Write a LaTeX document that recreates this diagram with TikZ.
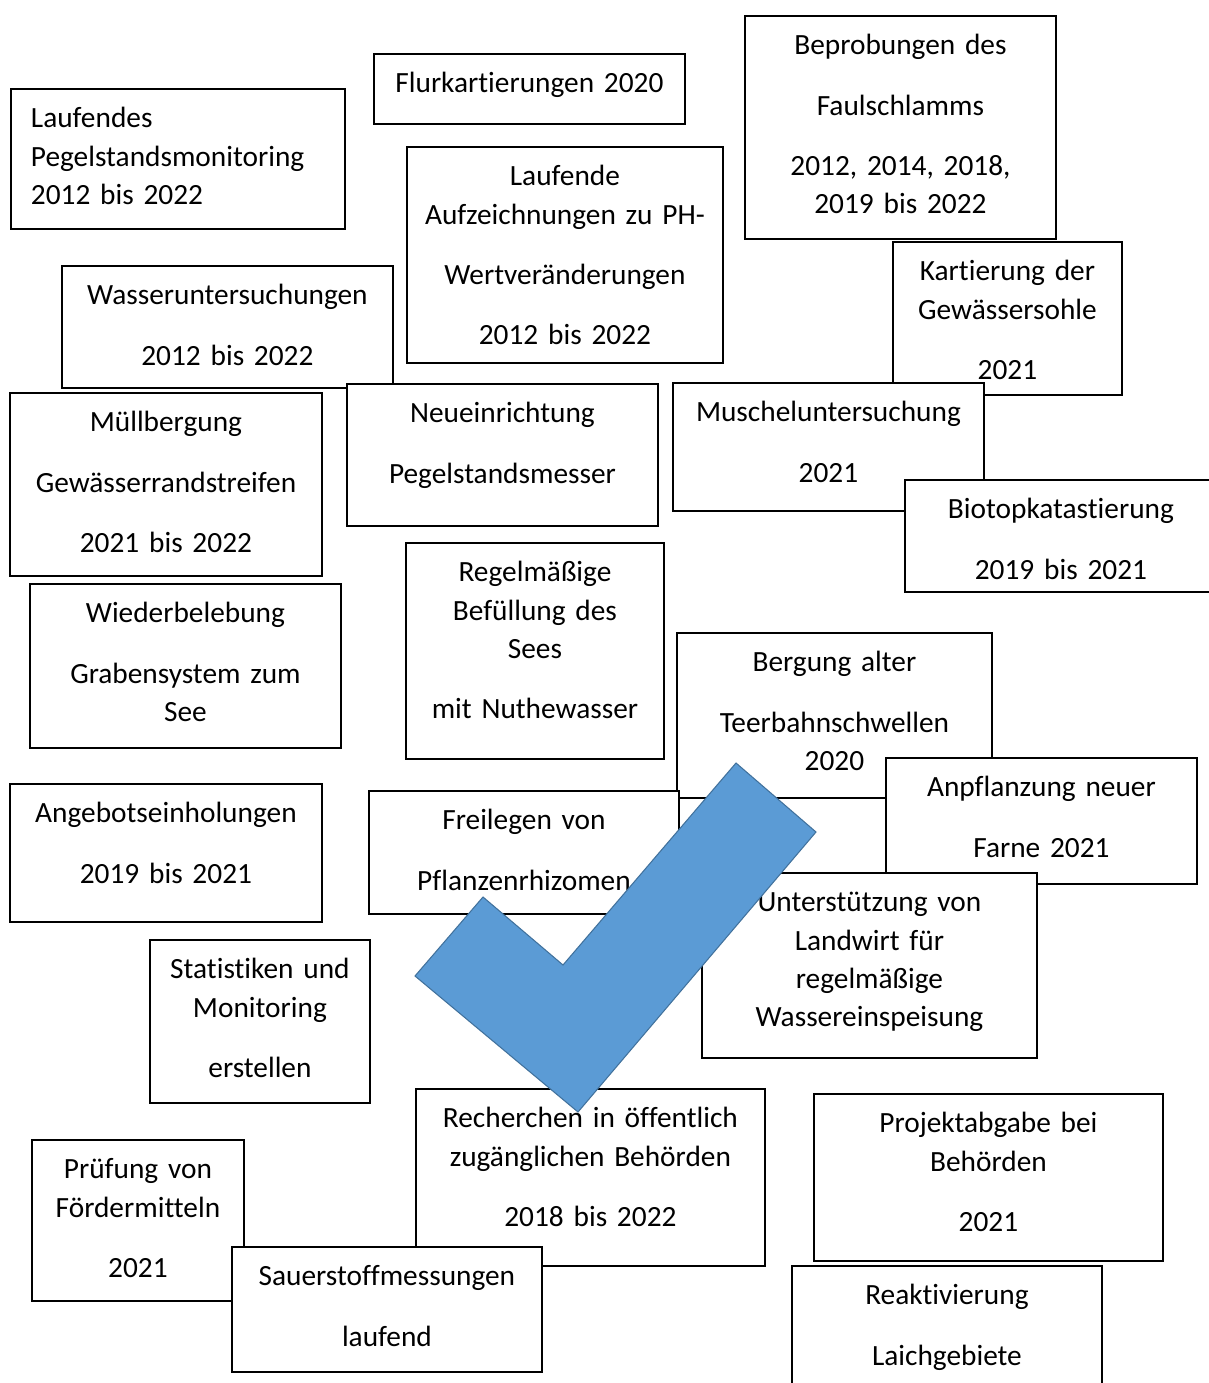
\documentclass[tikz,border=0pt]{standalone}
\usepackage{fontspec}
\setmainfont{Carlito}[Ligatures={NoCommon,NoRequired,NoContextual}]
\definecolor{checkblue}{RGB}{91,155,213}
\definecolor{checkline}{RGB}{65,113,156}
\newcommand{\boxfont}{\fontsize{16.7}{21.8}\selectfont\spaceskip=3pt\relax}

\begin{document}
\begin{tikzpicture}[x=0.02cm, y=-0.02cm,
  tbox/.style={draw, fill=white, line width=1.1pt, anchor=north west, inner sep=0pt, align=center, text height=0.78cm, font=\boxfont}
]
  \useasboundingbox (0,0) rectangle (1209,1383);

  \node[tbox, align=left, inner xsep=0.4cm, text width=5.88cm, text depth=2.02cm] (pegel) at (10,88) {
    Laufendes\\
    Pegelstandsmonitoring\\
    2012 bis 2022
  };
  \node[tbox, text width=6.22cm, text depth=0.62cm] (flur) at (373,53) {Flurkartierungen 2020};
  \node[tbox, text width=6.22cm, text depth=3.68cm] (faul) at (744,15) {
    Beprobungen des\\[12.5pt]
    Faulschlamms\\[12.5pt]
    2012, 2014, 2018,\\
    2019 bis 2022
  };
  \node[tbox, text width=6.32cm, text depth=3.54cm] (phwert) at (406,146) {
    Laufende\\
    Aufzeichnungen zu PH-\\[12.5pt]
    Wertveränderungen\\[12.5pt]
    2012 bis 2022
  };
  \node[tbox, text width=6.62cm, text depth=1.66cm] (wasser) at (61,265) {
    Wasseruntersuchungen\\[12.5pt]
    2012 bis 2022
  };
  \node[tbox, text width=4.58cm, text depth=2.28cm] (sohle) at (892,241) {
    Kartierung der\\
    Gewässersohle\\[12.5pt]
    2021
  };
  \node[tbox, text width=6.24cm, text depth=2.88cm] (muell) at (9,392) {
    Müllbergung\\[12.5pt]
    Gewässerrandstreifen\\[12.5pt]
    2021 bis 2022
  };
  \node[tbox, text width=6.22cm, text depth=2.06cm] (neupegel) at (346,383) {
    Neueinrichtung\\[12.5pt]
    Pegelstandsmesser
  };
  \node[tbox, text width=6.22cm, text depth=1.78cm] (muschel) at (672,382) {
    Muscheluntersuchung\\[12.5pt]
    2021
  };
  \node[tbox, text width=6.24cm, text depth=1.46cm] (biotop) at (904,479) {
    Biotopkatastierung\\[12.5pt]
    2019 bis 2021
  };
  \node[tbox, text width=6.22cm, text depth=2.50cm] (graben) at (29,583) {
    Wiederbelebung\\[12.5pt]
    Grabensystem zum\\
    See
  };
  \node[tbox, text width=5.16cm, text depth=3.54cm] (nuthe) at (405,542) {
    Regelmäßige\\
    Befüllung des\\
    Sees\\[12.5pt]
    mit Nuthewasser
  };
  \node[tbox, text width=6.30cm, text depth=2.52cm] (teer) at (676,632) {
    Bergung alter\\[12.5pt]
    Teerbahnschwellen\\
    2020
  };
  \node[tbox, text width=6.22cm, text depth=1.74cm] (farne) at (885,757) {
    Anpflanzung neuer\\[12.5pt]
    Farne 2021
  };
  \node[tbox, text width=6.24cm, text depth=1.98cm] (angebot) at (9,783) {
    Angebotseinholungen\\[12.5pt]
    2019 bis 2021
  };
  \node[tbox, text width=6.20cm, text depth=1.68cm] (rhizom) at (368,790) {
    Freilegen von\\[12.5pt]
    Pflanzenrhizomen
  };
  \node[tbox, text width=6.70cm, text depth=2.92cm] (landwirt) at (701,872) {
    Unterstützung von\\
    Landwirt für\\
    regelmäßige\\
    Wassereinspeisung
  };
  \node[tbox, text width=4.40cm, text depth=2.48cm] (statistik) at (149,939) {
    Statistiken und\\
    Monitoring\\[12.5pt]
    erstellen
  };
  \node[tbox, text width=6.98cm, text depth=2.76cm] (recherche) at (415,1088) {
    Recherchen in öffentlich\\
    zugänglichen Behörden\\[12.5pt]
    2018 bis 2022
  };
  \node[tbox, text width=6.98cm, text depth=2.56cm] (projekt) at (813,1093) {
    Projektabgabe bei\\
    Behörden\\[12.5pt]
    2021
  };
  \node[tbox, text width=4.24cm, text depth=2.44cm] (foerder) at (31,1139) {
    Prüfung von\\
    Fördermitteln\\[12.5pt]
    2021
  };
  \node[tbox, text width=6.20cm, text depth=1.72cm] (sauer) at (231,1246) {
    Sauerstoffmessungen\\[12.5pt]
    laufend
  };
  \node[tbox, text width=6.20cm, text depth=2.22cm] (laich) at (791,1265) {
    Reaktivierung\\[12.5pt]
    Laichgebiete
  };

  \draw[fill=checkblue, draw=checkline, line width=0.6pt] (736,763) -- (816,832) -- (578,1112) -- (415,976) -- (483,897) -- (563,965) -- cycle;
\end{tikzpicture}
\end{document}
